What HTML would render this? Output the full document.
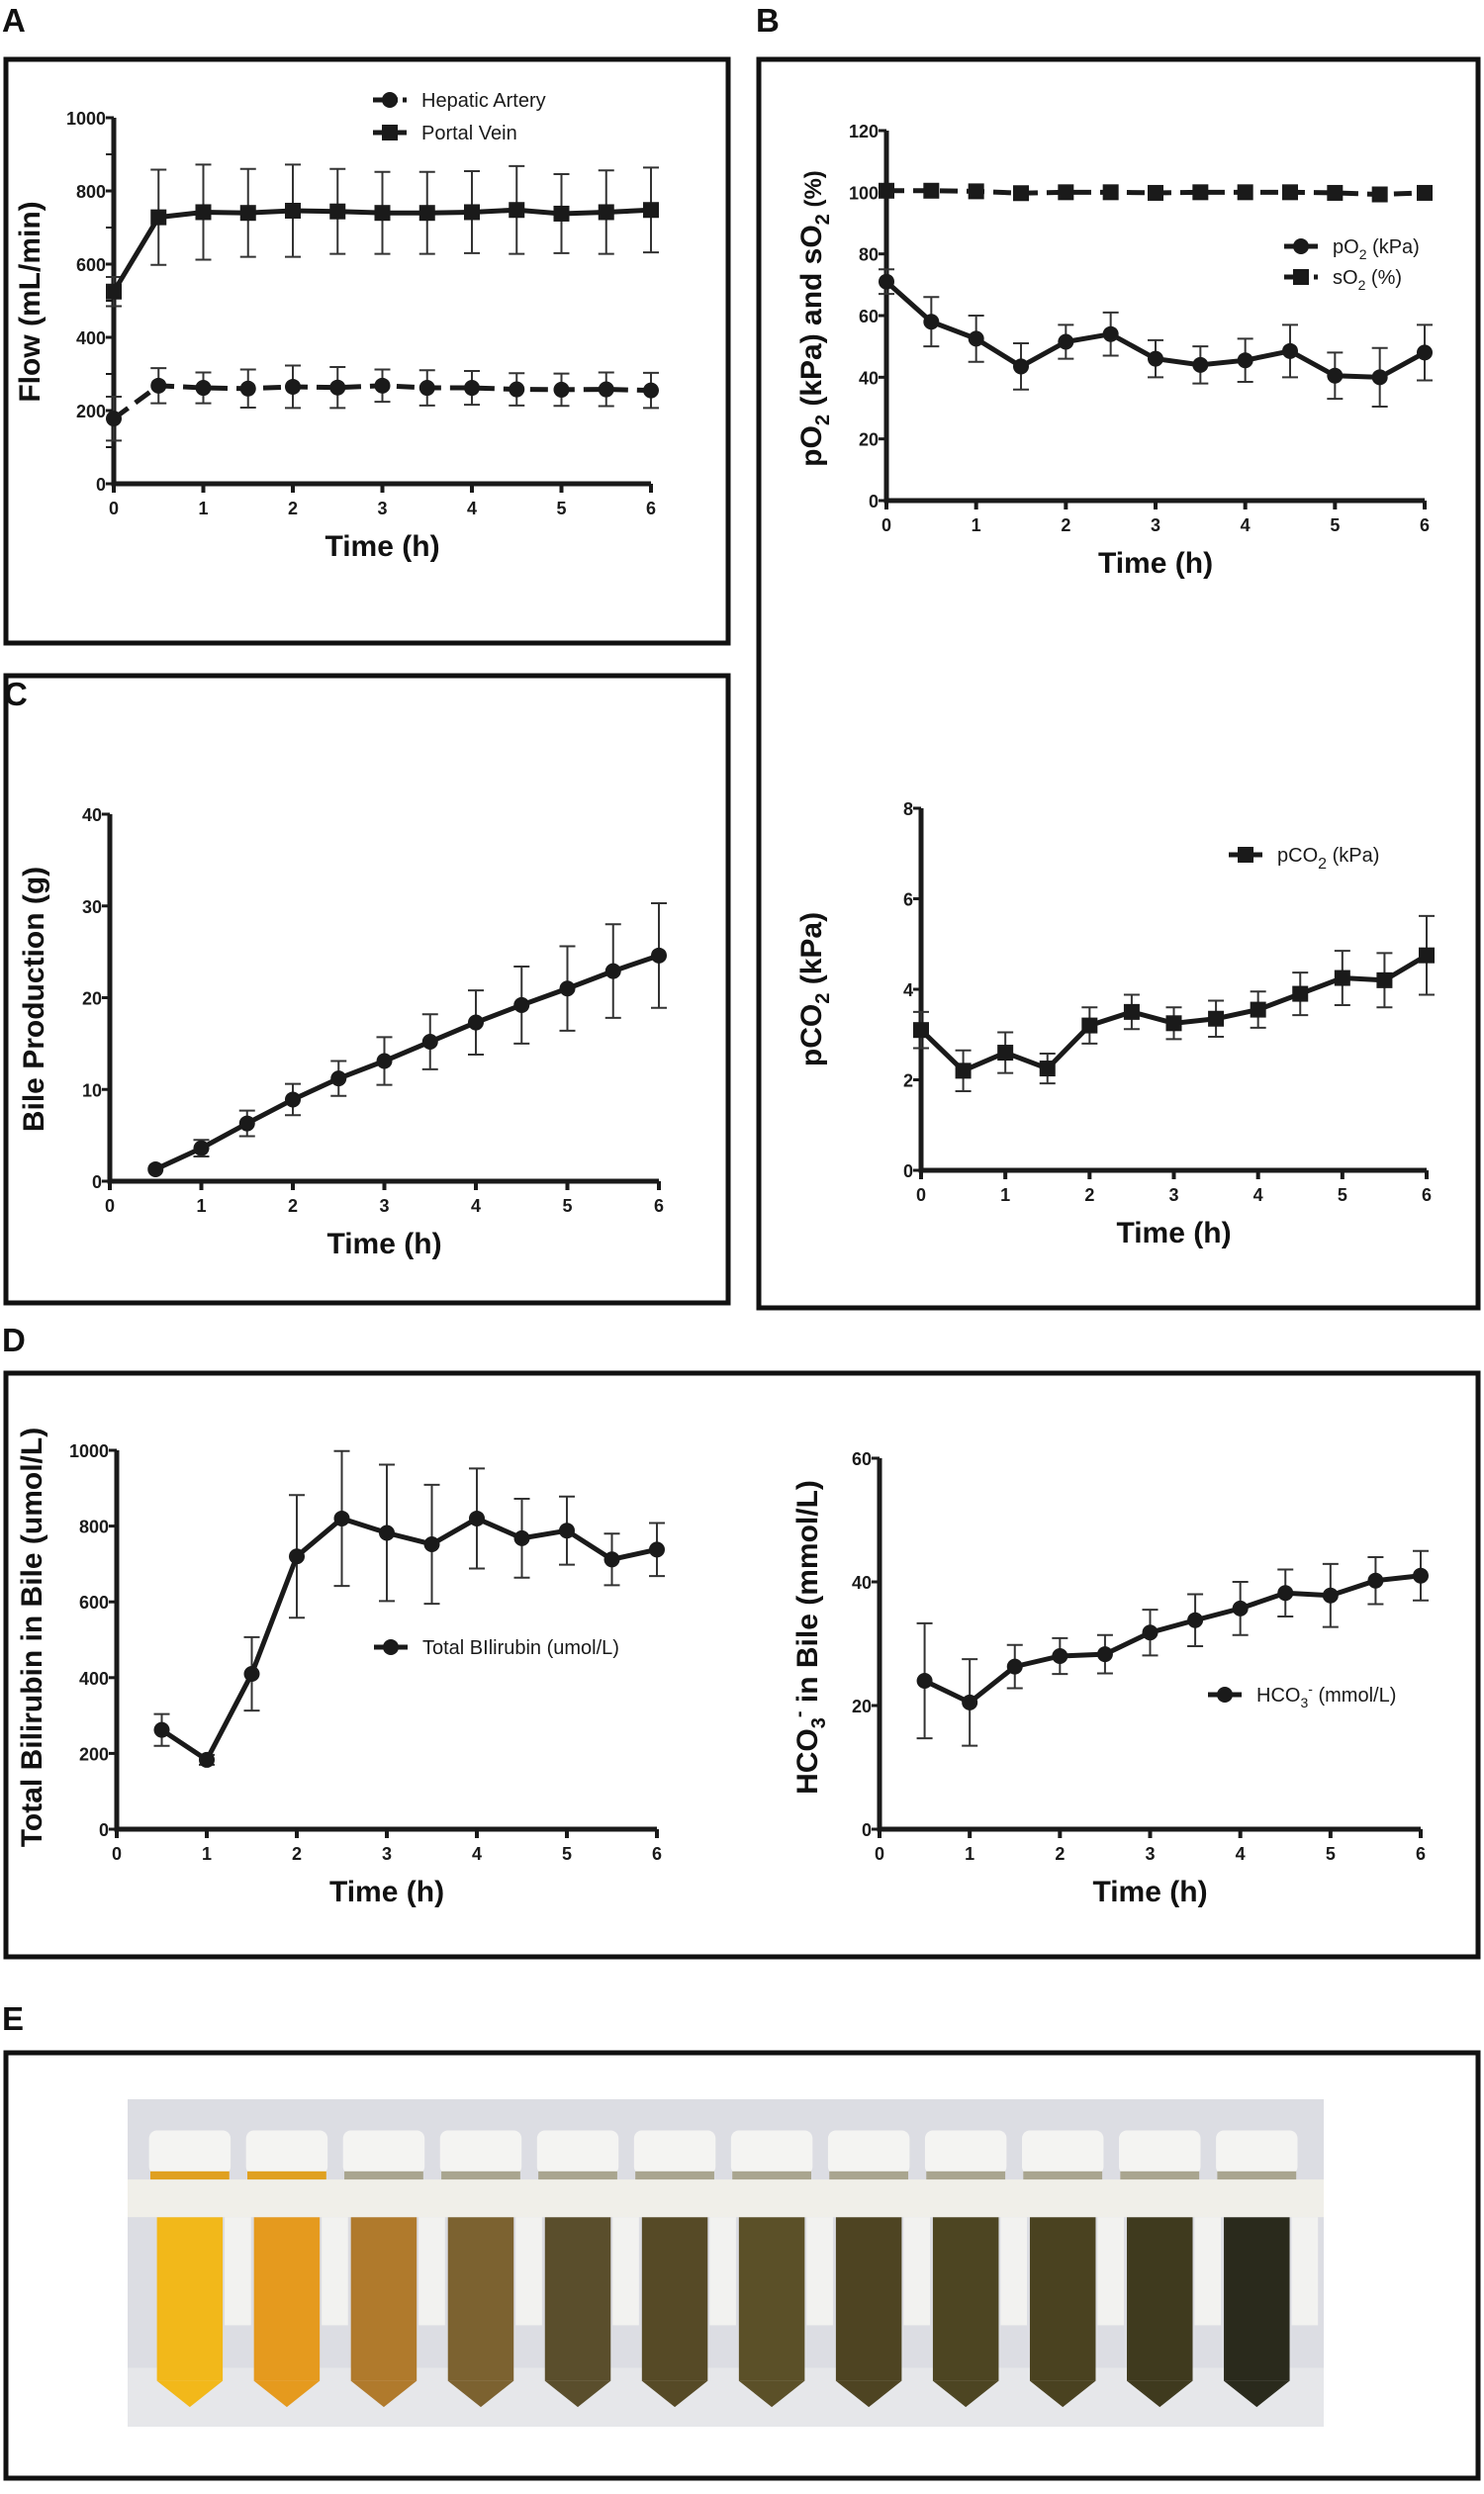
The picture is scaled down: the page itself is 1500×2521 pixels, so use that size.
<!DOCTYPE html>
<html><head><meta charset="utf-8"><style>
html,body{margin:0;padding:0;background:#fff;}
svg{display:block;font-family:"Liberation Sans",Arial,sans-serif;}
.tk{font-weight:bold;font-size:18px;fill:#1a1a1a;}
.ttl{font-weight:bold;font-size:30px;fill:#111;}
.lg{font-size:20px;fill:#1a1a1a;}
.pl{font-weight:bold;font-size:33px;fill:#111;}
</style></head><body>
<svg id="fig" width="1500" height="2521" viewBox="0 0 1500 2521" xmlns="http://www.w3.org/2000/svg">
<g fill="none" stroke="#111" stroke-width="5">
<rect x="6" y="60" width="730" height="590"/>
<rect x="767" y="60" width="727" height="1262"/>
<rect x="6" y="683" width="730" height="634"/>
<rect x="6" y="1388" width="1488" height="590"/>
<rect x="6" y="2075" width="1488" height="430"/>
</g>
<text class="pl" x="2" y="32">A</text>
<text class="pl" x="764" y="32">B</text>
<text class="pl" x="4" y="713">C</text>
<text class="pl" x="2" y="1366">D</text>
<text class="pl" x="2" y="2052">E</text>
<g id="photo"></g>
</svg>
<script>
// ---- data ----
const timesA = [0,0.5,1,1.5,2,2.5,3,3.5,4,4.5,5,5.5,6];
const portalVein = [525,728,742,740,746,744,740,740,742,748,738,742,748];
const portalVeinErr = [40,130,130,120,126,116,112,112,112,120,108,114,116];
const hepaticArtery = [178,268,262,260,265,263,268,262,262,258,257,258,255];
const hepaticArteryErr = [60,48,42,52,58,56,44,48,46,44,44,46,48];
const ticksA = [0,200,400,600,800,1000];

const pO2 = [71,58,52.5,43.5,51.5,54,46,44,45.5,48.5,40.5,40,48];
const pO2Err = [4,8,7.5,7.5,5.5,7,6,6,7,8.5,7.5,9.5,9];
const sO2 = [100.5,100.5,100.3,99.7,100,100,99.8,100,100,100,99.8,99.3,99.8];
const ticksBo = [0,20,40,60,80,100,120];

const pCO2 = [3.1,2.2,2.6,2.25,3.2,3.5,3.25,3.35,3.55,3.9,4.25,4.2,4.75];
const pCO2Err = [0.4,0.45,0.45,0.33,0.4,0.38,0.35,0.4,0.4,0.47,0.6,0.6,0.87];
const ticksBc = [0,2,4,6,8];

const timesC = [0.5,1,1.5,2,2.5,3,3.5,4,4.5,5,5.5,6];
const bile = [1.3,3.6,6.3,8.9,11.2,13.1,15.2,17.3,19.2,21,22.9,24.6];
const bileErr = [0,0.9,1.4,1.7,1.9,2.6,3,3.5,4.2,4.6,5.1,5.7];
const ticksC = [0,10,20,30,40];

const bilirubin = [262,183,410,720,820,782,752,820,768,788,712,738];
const bilirubinErr = [42,13,97,162,178,180,157,132,104,90,68,70];
const ticksDl = [0,200,400,600,800,1000];

const hco3 = [24,20.5,26.3,28,28.3,31.8,33.8,35.7,38.2,37.8,40.2,41];
const hco3Err = [9.3,7,3.5,2.9,3.1,3.7,4.2,4.3,3.8,5.1,3.8,4];
const ticksDr = [0,20,40,60];
const xTicks = [0,1,2,3,4,5,6];

const tubeColors = ['#f2b81a','#e59a1e','#b07a2c','#7c6230','#5a4e2c','#564a26','#5b5028','#4e4422','#4d4522','#4a4220','#3f3a1e','#2a2a1c'];

// ---- drawing ----
const NS='http://www.w3.org/2000/svg';
const svg=document.getElementById('fig');
function mk(tag,attrs,parent){const e=document.createElementNS(NS,tag);for(const k in attrs)e.setAttribute(k,attrs[k]);(parent||svg).appendChild(e);return e;}

function plot(o){
  const g=mk('g',{});
  
  
  const sx=v=>o.x0+(o.x1-o.x0)*v/6;
  const sy=v=>o.y0-(o.y0-o.y1)*v/o.ymax;
  const ax=mk('path',{d:`M${sx(0)},${o.y1} L${sx(0)},${o.y0} L${sx(6)},${o.y0}`,fill:'none',stroke:'#1a1a1a','stroke-width':5},g);
  
  
  o.yticks.forEach((t,i)=>{
    mk('line',{x1:sx(0)-8,x2:sx(0),y1:sy(t),y2:sy(t),stroke:'#1a1a1a','stroke-width':3},g);
    const tx=mk('text',{x:sx(0)-8,y:sy(t)+7,'text-anchor':'end',class:'tk'},g);
    tx.textContent=t;
    
    
    if(o.minor && i<o.yticks.length-1){const m=(t+o.yticks[i+1])/2;mk('line',{x1:sx(0)-8,x2:sx(0),y1:sy(m),y2:sy(m),stroke:'#1a1a1a','stroke-width':2},g);}
  });
  xTicks.forEach(t=>{
    mk('line',{x1:sx(t),x2:sx(t),y1:o.y0,y2:o.y0+9,stroke:'#1a1a1a','stroke-width':4},g);
    const tx=mk('text',{x:sx(t),y:o.y0+31,'text-anchor':'middle',class:'tk'},g);
    tx.textContent=t;
    
    
  });
  const xt=mk('text',{x:(sx(0)+sx(6))/2,y:o.y0+73,'text-anchor':'middle',class:'ttl'},g);
  xt.textContent='Time (h)';
  
  
  const yt=mk('text',{x:0,y:0,'text-anchor':'middle',class:'ttl',transform:`translate(${o.ytx},${o.yty}) rotate(-90)`},g);
  yt.innerHTML=o.ytitle;
  
  
  o.series.forEach(s=>{
    const sg=mk('g',{},g);
    
    
    if(s.err) s.vals.forEach((v,i)=>{
      if(!s.err[i])return;
      const x=sx(s.t[i]);const a=sy(v+s.err[i]),b=sy(v-s.err[i]);
      mk('path',{d:`M${x},${a} L${x},${b} M${x-8},${a} L${x+8},${a} M${x-8},${b} L${x+8},${b}`,stroke:'#333','stroke-width':2,fill:'none'},sg);
    });
    const pts=s.vals.map((v,i)=>sx(s.t[i])+','+sy(v)).join(' ');
    const ln=mk('polyline',{points:pts,fill:'none',stroke:'#1a1a1a','stroke-width':5,'stroke-dasharray':s.dash||'none'},sg);
    
    
    s.vals.forEach((v,i)=>{
      const x=sx(s.t[i]),y=sy(v);
      const m=s.marker==='sq'?mk('rect',{x:x-8,y:y-8,width:16,height:16,fill:'#1a1a1a'},sg):mk('circle',{cx:x,cy:y,r:8,fill:'#1a1a1a'},sg);
      
      
    });
  });
  o.legend.forEach(l=>{
    const lg=mk('g',{},g);
    
    
    mk('line',{x1:l.x-17,x2:l.x+17,y1:l.y,y2:l.y,stroke:'#1a1a1a','stroke-width':5,'stroke-dasharray':l.dash||'none'},lg);
    if(l.marker==='sq')mk('rect',{x:l.x-8,y:l.y-8,width:16,height:16,fill:'#1a1a1a'},lg);
    else mk('circle',{cx:l.x,cy:l.y,r:8,fill:'#1a1a1a'},lg);
    const t=mk('text',{x:l.x+32,y:l.y+7,class:'lg','font-size':l.fs||20},lg);
    t.innerHTML=l.text;
  });
}

plot({name:'chart-flow',x0:115,x1:658,y0:489,y1:119,ymax:1000,yticks:ticksA,minor:true,
  ytitle:'Flow (mL/min)',ytx:40,yty:305,
  series:[{name:'series-portal-vein',t:timesA,vals:portalVein,err:portalVeinErr,marker:'sq'},
          {name:'series-hepatic-artery',t:timesA,vals:hepaticArtery,err:hepaticArteryErr,marker:'ci',dash:'18,9'}],
  legend:[{x:394,y:101,text:'Hepatic Artery',dash:'10,5'},{x:394,y:134,text:'Portal Vein',marker:'sq'}]});

plot({name:'chart-po2-so2',x0:896,x1:1440,y0:506,y1:132,ymax:120,yticks:ticksBo,
  ytitle:'pO<tspan font-size="20" dy="8">2</tspan><tspan dy="-8"> (kPa) and sO</tspan><tspan font-size="20" dy="8">2</tspan><tspan dy="-8" font-size="24"> (%)</tspan>',ytx:830,yty:322,
  series:[{name:'series-po2',t:timesA,vals:pO2,err:pO2Err,marker:'ci'},
          {name:'series-so2',t:timesA,vals:sO2,marker:'sq',dash:'18,9'}],
  legend:[{x:1315,y:249,text:'pO<tspan font-size="14" dy="6">2</tspan><tspan dy="-6"> (kPa)</tspan>'},{x:1315,y:280,text:'sO<tspan font-size="14" dy="6">2</tspan><tspan dy="-6"> (%)</tspan>',marker:'sq',dash:'10,5'}]});

plot({name:'chart-pco2',x0:931,x1:1442,y0:1183,y1:817,ymax:8,yticks:ticksBc,
  ytitle:'pCO<tspan font-size="20" dy="8">2</tspan><tspan dy="-8"> (kPa)</tspan>',ytx:830,yty:1000,
  series:[{name:'series-pco2',t:timesA,vals:pCO2,err:pCO2Err,marker:'sq'}],
  legend:[{x:1259,y:864,text:'pCO<tspan font-size="16" dy="7">2</tspan><tspan dy="-7"> (kPa)</tspan>',marker:'sq',fs:24}]});

plot({name:'chart-bile-production',x0:111,x1:666,y0:1194,y1:823,ymax:40,yticks:ticksC,
  ytitle:'Bile Production (g)',ytx:44,yty:1010,
  series:[{name:'series-bile',t:timesC,vals:bile,err:bileErr,marker:'ci'}],
  legend:[]});

plot({name:'chart-bilirubin',x0:118,x1:664,y0:1849,y1:1466,ymax:1000,yticks:ticksDl,
  ytitle:'Total Bilirubin in Bile (umol/L)',ytx:42,yty:1655,
  series:[{name:'series-bilirubin',t:timesC,vals:bilirubin,err:bilirubinErr,marker:'ci'}],
  legend:[{x:395,y:1665,text:'Total BIlirubin (umol/L)'}]});

plot({name:'chart-hco3',x0:889,x1:1436,y0:1849,y1:1474,ymax:60,yticks:ticksDr,
  ytitle:'HCO<tspan font-size="20" dy="8">3</tspan><tspan font-size="20" dy="-20">-</tspan><tspan dy="12"> in Bile (mmol/L)</tspan>',ytx:826,yty:1655,
  series:[{name:'series-hco3',t:timesC,vals:hco3,err:hco3Err,marker:'ci'}],
  legend:[{x:1238,y:1713,text:'HCO<tspan font-size="14" dy="6">3</tspan><tspan font-size="14" dy="-14">-</tspan><tspan dy="8"> (mmol/L)</tspan>'}]});

// photo
const ph=document.getElementById('photo');
const PX=129,PY=2122,PW=1209,PH=331;
mk('rect',{x:PX,y:PY,width:PW,height:PH,fill:'#dcdde3'},ph);
mk('rect',{x:PX,y:PY+PH*0.82,width:PW,height:PH*0.18,fill:'#e6e7ea'},ph);
tubeColors.forEach((c,i)=>{
  const cx=PX+PW*(0.052+i*(0.892/11));const w=PW*0.055;
  const t=mk('g',{},ph);
  
  
  mk('rect',{x:cx-w/2,y:PY+PH*0.36,width:w,height:PH*0.5,fill:c},t);
  mk('path',{d:`M${cx-w/2},${PY+PH*0.86} L${cx},${PY+PH*0.94} L${cx+w/2},${PY+PH*0.86}Z`,fill:c},t);
  mk('rect',{x:cx+w/2+2,y:PY+PH*0.36,width:w*0.4,height:PH*0.33,fill:'#f2f2f0'},t);
  mk('rect',{x:cx-w*0.62,y:PY+PH*0.095,width:w*1.24,height:PH*0.135,rx:8,fill:'#f4f4f2'},t);
  mk('rect',{x:cx-w*0.6,y:PY+PH*0.22,width:w*1.2,height:PH*0.04,fill:i<2?'#e0a020':'#a9a58f'},t);
});
mk('rect',{x:PX,y:PY+PH*0.245,width:PW,height:PH*0.115,fill:'#f0efe9'},ph);
</script>
</body></html>
